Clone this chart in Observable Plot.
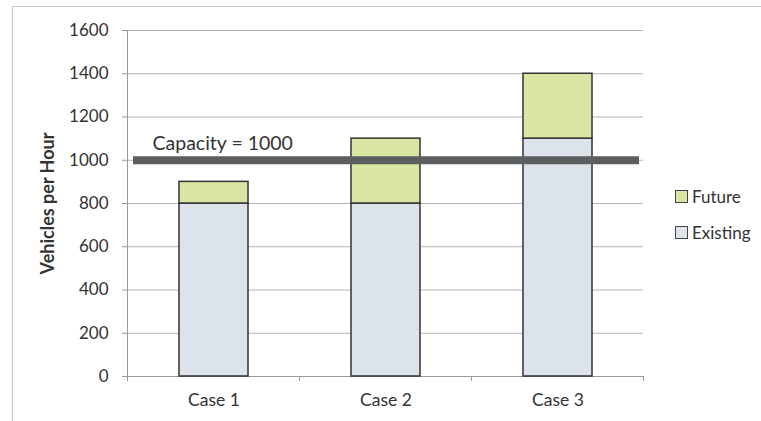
<!DOCTYPE html>
<html>
<head>
<meta charset="utf-8">
<script src="https://cdn.jsdelivr.net/npm/d3@7"></script>
<script src="https://cdn.jsdelivr.net/npm/@observablehq/plot@0.6"></script>
<style>
  html, body { margin: 0; padding: 0; background: #fff; }
  #wrap { position: relative; width: 761px; height: 421px; overflow: hidden; font-family: Lato, "Open Sans", sans-serif; }
  #border { position: absolute; left: 12px; top: 6px; width: 800px; height: 500px; border: 1px solid #c8c8c8; box-sizing: border-box; }
  #legend { position: absolute; left: 675px; top: 178px; color: #333; font-size: 17px; }
  .item { display: flex; align-items: center; height: 36px; }
  .sw { width: 11px; height: 11px; border: 1px solid #444; margin-right: 4px; }
  svg { position: absolute; left: 0; top: 0; }
</style>
</head>
<body>
<div id="wrap"><div id="border"></div></div>
<script>
const cases = ["Case 1", "Case 2", "Case 3"];
const existing = [800, 800, 1100];
const future = [100, 300, 300];
const series = ["Existing", "Future"];
const seriesColors = ["#dde3ea", "#d8e5a3"];
const capacity = 1000;
const yTicks = [0, 200, 400, 600, 800, 1000, 1200, 1400, 1600];

const rows = cases.flatMap((c, i) => [
  {case: c, series: "Existing", value: existing[i]},
  {case: c, series: "Future", value: future[i]}
]);

// small tick marks on the category axis, placed between bands
function bandBoundaryTicks(index, scales, values, dim) {
  const x = scales.x;
  const step = x.step ? x.step() : (dim.width - dim.marginLeft - dim.marginRight) / cases.length;
  const bw = x.bandwidth ? x.bandwidth() : 0;
  const g = d3.create("svg:g").attr("stroke", "#999").attr("stroke-width", 1);
  const y0 = dim.height - dim.marginBottom;
  const xs = cases.map(c => x(c) + bw / 2 - step / 2);
  xs.push(x(cases[cases.length - 1]) + bw / 2 + step / 2);
  for (const px of xs) {
    g.append("line").attr("x1", px).attr("x2", px).attr("y1", y0).attr("y2", y0 + 5);
  }
  return g.node();
}

const chart = Plot.plot({
  width: 761,
  height: 421,
  marginLeft: 127,
  marginRight: 118,
  marginTop: 30,
  marginBottom: 45,
  style: {fontFamily: "Lato, 'Open Sans', sans-serif", fontSize: "17px", color: "#333", background: "transparent"},
  x: {domain: cases, paddingInner: 0.6, paddingOuter: 0.3, label: null},
  y: {domain: [0, 1600], label: null},
  color: {domain: series, range: seriesColors},
  marks: [
    Plot.gridY(yTicks, {stroke: "#b4b4b4", strokeOpacity: 1, strokeWidth: 1}),
    Plot.axisY(yTicks, {tickSize: 5, tickPadding: 14, stroke: "#999", fontSize: 17, tickFormat: d => String(d), label: null}),
    Plot.axisX({tickSize: 0, tickPadding: 17, fontSize: 17.5, label: null}),
    Plot.frame({anchor: "left", stroke: "#999"}),
    Plot.frame({anchor: "bottom", stroke: "#999"}),
    bandBoundaryTicks,
    Plot.barY(rows, {x: "case", y: "value", fill: "series", stroke: "#333", strokeWidth: 1.5}),
    Plot.ruleY([capacity], {stroke: "#5b5f62", strokeWidth: 8, insetLeft: 6, insetRight: 4}),
    Plot.text([`Capacity = ${capacity}`], {frameAnchor: "left", y: () => capacity, dx: 25, dy: -17, textAnchor: "start", fontSize: 19.5, fill: "#333"}),
    Plot.text(["Vehicles per Hour"], {frameAnchor: "left", dx: -79, rotate: -90, textAnchor: "middle", fontSize: 18, fontWeight: "bold", fill: "#333"})
  ]
});

const wrap = document.getElementById("wrap");
wrap.appendChild(chart);

const legend = document.createElement("div");
legend.id = "legend";
for (const s of [...series].reverse()) {
  const item = document.createElement("div");
  item.className = "item";
  const sw = document.createElement("span");
  sw.className = "sw";
  sw.style.background = seriesColors[series.indexOf(s)];
  const label = document.createElement("span");
  label.textContent = s;
  item.appendChild(sw);
  item.appendChild(label);
  legend.appendChild(item);
}
wrap.appendChild(legend);
</script>
</body>
</html>
